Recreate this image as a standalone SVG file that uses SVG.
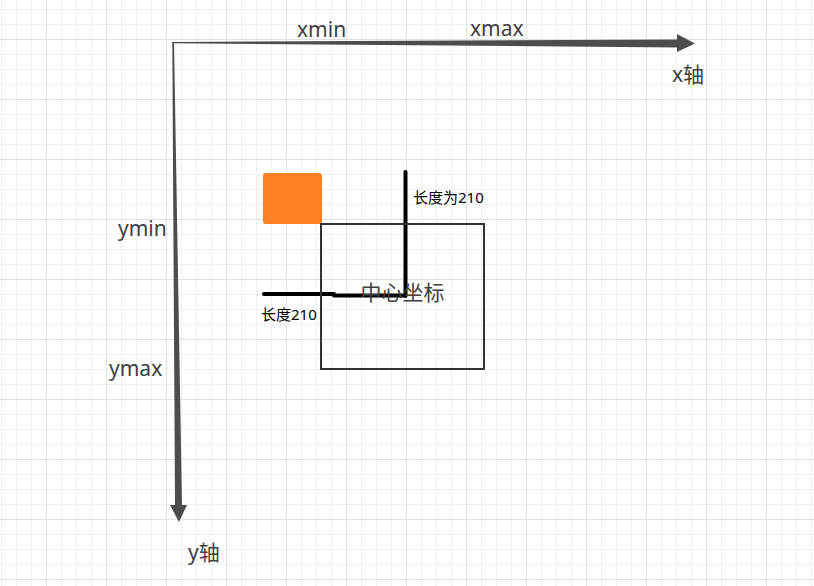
<svg xmlns="http://www.w3.org/2000/svg" width="814" height="586" viewBox="0 0 814 586">
<style>
.lbl{font-family:"Noto Sans","Noto Sans CJK SC",sans-serif;font-size:21px;fill:#404040}
.sm{font-family:"Noto Sans","Noto Sans CJK SC",sans-serif;font-size:15px;fill:#000}
.axis{fill:#4d4d4d}
.bar{stroke:#000;stroke-width:4;stroke-linecap:round;fill:none}
</style>
<defs>
<pattern id="grid" patternUnits="userSpaceOnUse" x="46" y="39" width="60" height="60">
<rect width="60" height="60" fill="#fff"/>
<path d="M15.5 0V60M30.5 0V60M45.5 0V60M0 15.5H60M0 30.5H60M0 45.5H60" stroke="#f0f0f0" stroke-width="1"/>
<path d="M0.5 0V60M0 0.5H60" stroke="#e2e2e2" stroke-width="1"/>
</pattern>
</defs>
<rect width="814" height="586" fill="url(#grid)"/>
<g id="connectors">
<polygon class="axis" points="173,42 677,39.5 677,34 695,43.5 677,52 677,47.5 173,43.3"/>
<polygon class="axis" points="172.3,42 174,42 182,505 187,505 179,522 170,505 175,505 172.3,43"/>
<path class="bar" d="M264 294H334"/>
<path class="bar" d="M334 295.5H405"/>
<path class="bar" d="M405.5 172V296"/>
</g>
<g id="orange">
<rect x="263" y="173" width="59" height="51" rx="3" fill="#fe7f24"/>
</g>
<g id="center-box">
<rect x="321" y="224" width="163" height="145" fill="#fff" fill-opacity="0" stroke="#333" stroke-width="2"/>
<text class="lbl" x="402.5" y="300" text-anchor="middle">中心坐标</text>
</g>
<g id="labels">
<text class="lbl" x="297" y="37">xmin</text>
<text class="lbl" x="470" y="36">xmax</text>
<text class="lbl" x="672" y="82">x轴</text>
<text class="lbl" x="118" y="236">ymin</text>
<text class="lbl" x="109" y="376">ymax</text>
<text class="lbl" x="188" y="560">y轴</text>
<text class="sm" x="413" y="203">长度为210</text>
<text class="sm" x="261" y="320">长度210</text>
</g>
</svg>
